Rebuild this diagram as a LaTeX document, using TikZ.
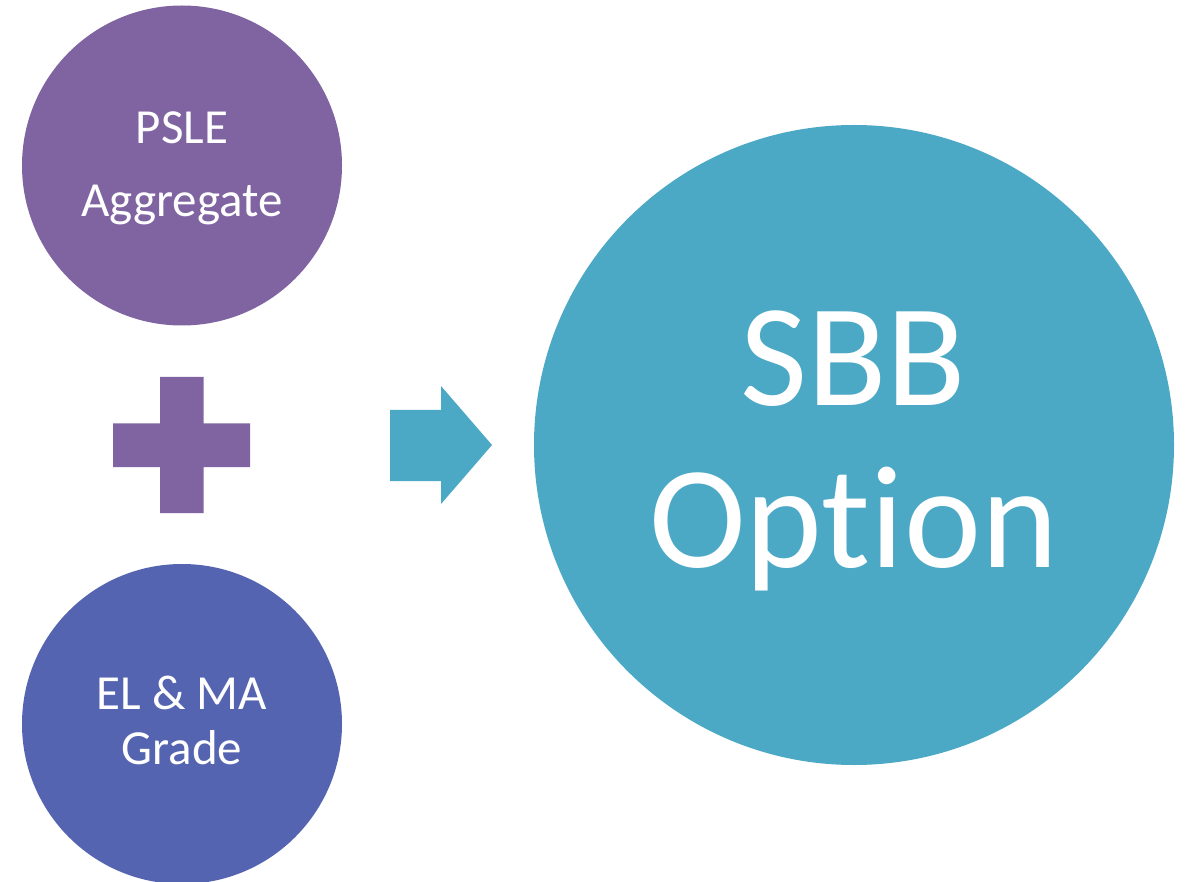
\documentclass[tikz,border=0pt]{standalone}
\usepackage{fontspec}
\setmainfont[Ligatures={NoCommon,NoRare}]{Carlito}
\definecolor{pslecol}{HTML}{8064A2}
\definecolor{elcol}{HTML}{5564B0}
\definecolor{sbbcol}{HTML}{4BA9C6}
\begin{document}
\begin{tikzpicture}[x=1pt,y=-1pt,
  bubble/.style={circle,inner sep=0pt,draw=none},
  smalltxt/.style={anchor=base,text=white,inner sep=0pt,font=\fontsize{49}{55}\selectfont},
  bigtxt/.style={anchor=base,text=white,inner sep=0pt,font=\fontsize{146}{160}\selectfont}]
\useasboundingbox (0,0) rectangle (1189,882);
\clip (0,0) rectangle (1189,882);
\fill[white] (0,0) rectangle (1189,882);
% circles
\node[bubble,fill=pslecol,minimum size=320pt] (psle) at (182,165.5) {};
\node[bubble,fill=elcol,minimum size=320pt] (elma) at (182,724) {};
\node[bubble,fill=sbbcol,minimum size=640pt] (sbb) at (854,445) {};
% texts
\node[smalltxt] (psle1) at (182,144) {PSLE};
\node[smalltxt] (psle2) at (182,217) {Aggregate};
\node[smalltxt] (elma1) at (182,709) {EL \& MA};
\node[smalltxt] (elma2) at (182,764) {Grade};
\node[bigtxt] (sbb1) at (853.5,406) {SBB};
\node[bigtxt] (sbb2) at (853.5,567) {Option};
% plus sign
\fill[pslecol] (160,377) -- (203.5,377) -- (203.5,423.5) -- (250,423.5) -- (250,467)
  -- (203.5,467) -- (203.5,513) -- (160,513) -- (160,467) -- (113,467)
  -- (113,423.5) -- (160,423.5) -- cycle;
% arrow
\fill[sbbcol] (390,410) -- (441,410) -- (441,386) -- (492,445) -- (441,504)
  -- (441,481) -- (390,481) -- cycle;
\end{tikzpicture}
\end{document}
